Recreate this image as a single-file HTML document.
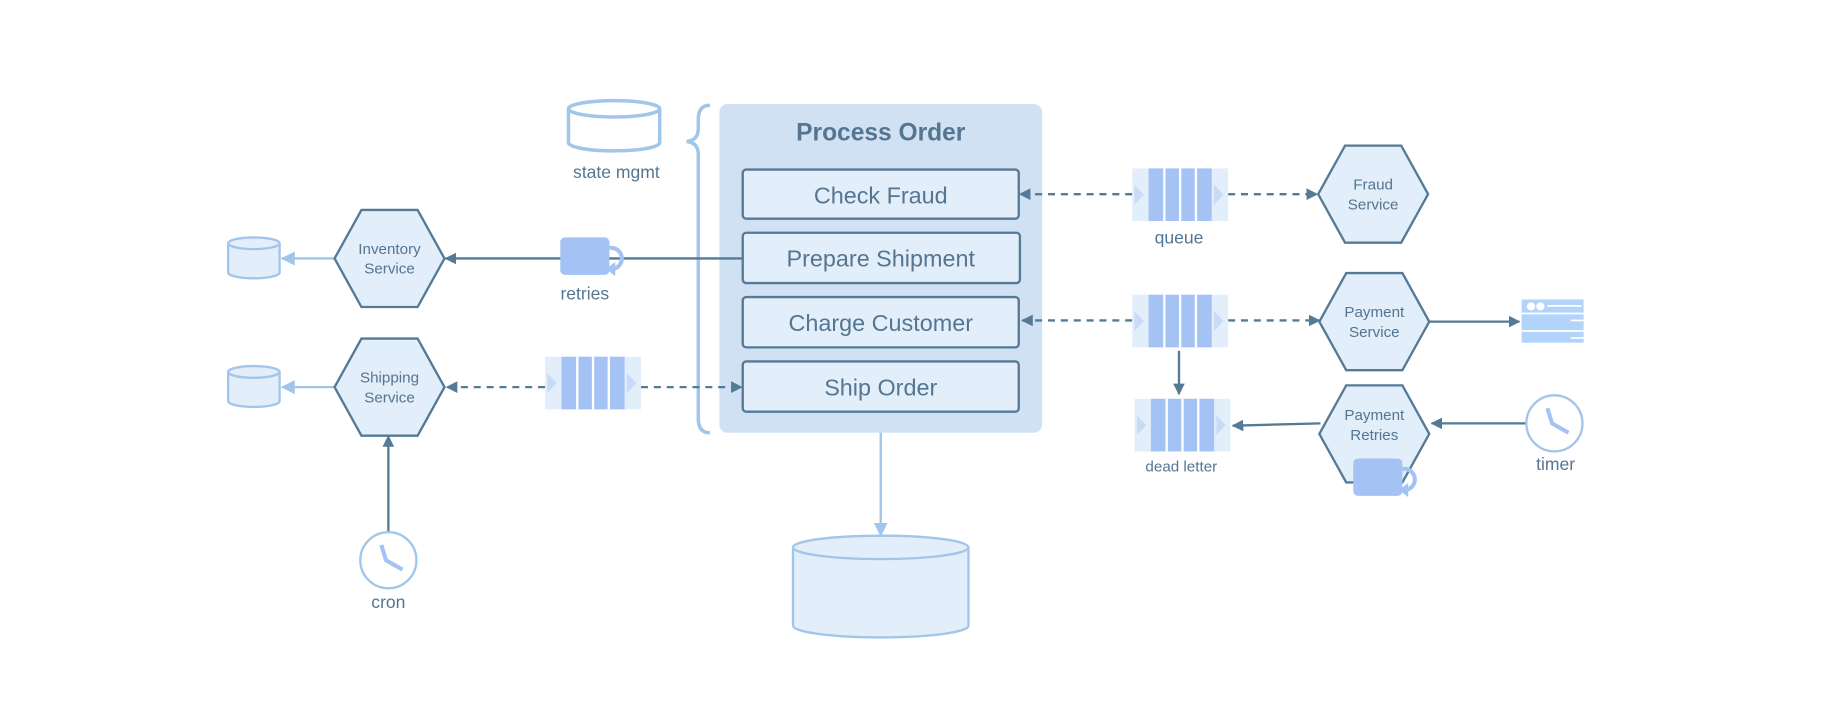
<!DOCTYPE html>
<html><head><meta charset="utf-8"><style>
html,body{margin:0;padding:0;background:#fff;}
svg{display:block;}
text{font-family:"Liberation Sans",sans-serif;fill:#557590;}
</style></head><body>
<svg width="1834" height="707" viewBox="0 0 1568 604.5" xmlns="http://www.w3.org/2000/svg">
<defs>
<marker id="ad" markerWidth="10" markerHeight="10" refX="9" refY="5" orient="auto" markerUnits="userSpaceOnUse"><path d="M0,0 L10,5 L0,10 z" fill="#557a96"/></marker>
<marker id="al" markerWidth="12" markerHeight="12" refX="11" refY="6" orient="auto" markerUnits="userSpaceOnUse"><path d="M0,0 L12,6 L0,12 z" fill="#a2c5ea"/></marker>
<g id="q">
<rect x="0" y="0" width="82" height="45" fill="#e3eefb"/>
<path d="M2,14 L10,22.5 L2,31 z" fill="#c7dbf7"/>
<path d="M70,14 L78,22.5 L70,31 z" fill="#c7dbf7"/>
<rect x="14" y="0" width="54" height="45" fill="#a4c3f4"/>
<line x1="27.5" y1="0" x2="27.5" y2="45" stroke="#fff" stroke-width="2"/>
<line x1="41" y1="0" x2="41" y2="45" stroke="#fff" stroke-width="2"/>
<line x1="54.5" y1="0" x2="54.5" y2="45" stroke="#fff" stroke-width="2"/>
</g>
<g id="hex"><polygon points="-47,0 -24,-41.5 24,-41.5 47,0 24,41.5 -24,41.5" fill="#e2eefa" stroke="#557a96" stroke-width="2"/></g>
<g id="cyl"><path d="M0,5 L0,30 A22,5 0 0 0 44,30 L44,5" fill="#e2eefa" stroke="#a2c5ea" stroke-width="2"/><ellipse cx="22" cy="5" rx="22" ry="5" fill="#e2eefa" stroke="#a2c5ea" stroke-width="2"/></g>
<g id="clk"><circle r="24" fill="#fff" stroke="#a2c5ea" stroke-width="2"/><path d="M-6,-13 L-2,0 L12,8" fill="none" stroke="#a4c3f4" stroke-width="3.5"/></g>
<g id="rt"><rect x="0" y="0" width="42" height="32" rx="4" fill="#a4c3f4"/><path d="M42,9 A9,9 0 0 1 45,27" fill="none" stroke="#a4c3f4" stroke-width="3.5"/><path d="M39,27 L47,21 L47,33 z" fill="#a4c3f4"/></g>
</defs>

<rect x="615" y="89" width="276" height="281" rx="7" fill="#cfe1f3"/>
<text x="753" y="120" font-size="21" font-weight="bold" text-anchor="middle">Process Order</text>
<g stroke="#557a96" stroke-width="2" fill="#e2eefa">
<rect x="635" y="145" width="236" height="42" rx="3"/>
<rect x="635" y="199" width="237" height="43" rx="3"/>
<rect x="635" y="254" width="236" height="43" rx="3"/>
<rect x="635" y="309" width="236" height="43" rx="3"/>
</g>
<g font-size="20" text-anchor="middle">
<text x="753" y="174">Check Fraud</text>
<text x="753" y="228">Prepare Shipment</text>
<text x="753" y="283">Charge Customer</text>
<text x="753" y="338">Ship Order</text>
</g>

<path d="M607,90 Q597,90 597,102 L597,110 Q597,120 587,121 Q597,122 597,132 L597,358 Q597,370 607,370" fill="none" stroke="#a2c5ea" stroke-width="3"/>

<path d="M486,93 L486,122 A39,7 0 0 0 564,122 L564,93" fill="#fff" stroke="#a2c5ea" stroke-width="3"/>
<ellipse cx="525" cy="93" rx="39" ry="7" fill="#fff" stroke="#a2c5ea" stroke-width="3"/>
<text x="527" y="152" font-size="15" text-anchor="middle">state mgmt</text>

<line x1="753" y1="370" x2="753" y2="458" stroke="#a2c5ea" stroke-width="2" marker-end="url(#al)"/>
<path d="M678,468 L678,535 A75,10 0 0 0 828,535 L828,468" fill="#e2eefa" stroke="#a2c5ea" stroke-width="2"/>
<ellipse cx="753" cy="468" rx="75" ry="10" fill="#e2eefa" stroke="#a2c5ea" stroke-width="2"/>

<use href="#cyl" x="195" y="203"/>
<use href="#cyl" x="195" y="313"/>
<line x1="286" y1="221" x2="241" y2="221" stroke="#a2c5ea" stroke-width="2" marker-end="url(#al)"/>
<line x1="290" y1="331" x2="241" y2="331" stroke="#a2c5ea" stroke-width="2" marker-end="url(#al)"/>
<line x1="635" y1="221" x2="381" y2="221" stroke="#557a96" stroke-width="2" marker-end="url(#ad)"/>
<use href="#rt" x="479" y="203"/>
<text x="500" y="256" font-size="15" text-anchor="middle">retries</text>
<use href="#hex" x="333" y="221"/>
<text x="333" y="217" font-size="13" text-anchor="middle">Inventory</text>
<text x="333" y="234" font-size="13" text-anchor="middle">Service</text>

<line x1="466" y1="331" x2="382" y2="331" stroke="#557a96" stroke-width="2" stroke-dasharray="6,5" marker-end="url(#ad)"/>
<line x1="548" y1="331" x2="634" y2="331" stroke="#557a96" stroke-width="2" stroke-dasharray="6,5" marker-end="url(#ad)"/>
<use href="#q" x="466" y="305"/>
<line x1="332" y1="455" x2="332" y2="373" stroke="#557a96" stroke-width="2" marker-end="url(#ad)"/>
<use href="#hex" x="333" y="331"/>
<text x="333" y="327" font-size="13" text-anchor="middle">Shipping</text>
<text x="333" y="344" font-size="13" text-anchor="middle">Service</text>
<use href="#clk" x="332" y="479"/>
<text x="332" y="520" font-size="15" text-anchor="middle">cron</text>

<line x1="968" y1="166" x2="872" y2="166" stroke="#557a96" stroke-width="2" stroke-dasharray="6,5" marker-end="url(#ad)"/>
<line x1="1050" y1="166" x2="1126" y2="166" stroke="#557a96" stroke-width="2" stroke-dasharray="6,5" marker-end="url(#ad)"/>
<use href="#q" x="968" y="144"/>
<text x="1008" y="208" font-size="15" text-anchor="middle">queue</text>
<use href="#hex" x="1174" y="166"/>
<text x="1174" y="162" font-size="13" text-anchor="middle">Fraud</text>
<text x="1174" y="179" font-size="13" text-anchor="middle">Service</text>

<line x1="968" y1="274" x2="874" y2="274" stroke="#557a96" stroke-width="2" stroke-dasharray="6,5" marker-end="url(#ad)"/>
<line x1="1050" y1="274" x2="1128" y2="274" stroke="#557a96" stroke-width="2" stroke-dasharray="6,5" marker-end="url(#ad)"/>
<use href="#q" x="968" y="252"/>
<use href="#hex" x="1175" y="275"/>
<text x="1175" y="271" font-size="13" text-anchor="middle">Payment</text>
<text x="1175" y="288" font-size="13" text-anchor="middle">Service</text>
<line x1="1222" y1="275" x2="1299" y2="275" stroke="#557a96" stroke-width="2" marker-end="url(#ad)"/>
<rect x="1301" y="256" width="53" height="37" fill="#b3d4fa"/>
<circle cx="1309" cy="262" r="3.5" fill="#fff"/><circle cx="1317" cy="262" r="3.5" fill="#fff"/>
<line x1="1323" y1="261.5" x2="1352" y2="261.5" stroke="#fff" stroke-width="1.5"/>
<line x1="1301" y1="268" x2="1354" y2="268" stroke="#fff" stroke-width="1.5"/>
<line x1="1301" y1="283" x2="1354" y2="283" stroke="#fff" stroke-width="1.5"/>
<line x1="1343" y1="274" x2="1354" y2="274" stroke="#fff" stroke-width="1.5"/>
<line x1="1343" y1="289" x2="1354" y2="289" stroke="#fff" stroke-width="1.5"/>

<line x1="1008" y1="300" x2="1008" y2="337" stroke="#557a96" stroke-width="2" marker-end="url(#ad)"/>
<use href="#q" x="970" y="341"/>
<text x="1010" y="403" font-size="13" text-anchor="middle">dead letter</text>
<line x1="1129" y1="362" x2="1054" y2="364" stroke="#557a96" stroke-width="2" marker-end="url(#ad)"/>
<use href="#hex" x="1175" y="371"/>
<text x="1175" y="359" font-size="13" text-anchor="middle">Payment</text>
<text x="1175" y="376" font-size="13" text-anchor="middle">Retries</text>
<use href="#rt" x="1157" y="392"/>
<line x1="1305" y1="362" x2="1224" y2="362" stroke="#557a96" stroke-width="2" marker-end="url(#ad)"/>
<use href="#clk" x="1329" y="362"/>
<text x="1330" y="402" font-size="15" text-anchor="middle">timer</text>
</svg>
</body></html>
